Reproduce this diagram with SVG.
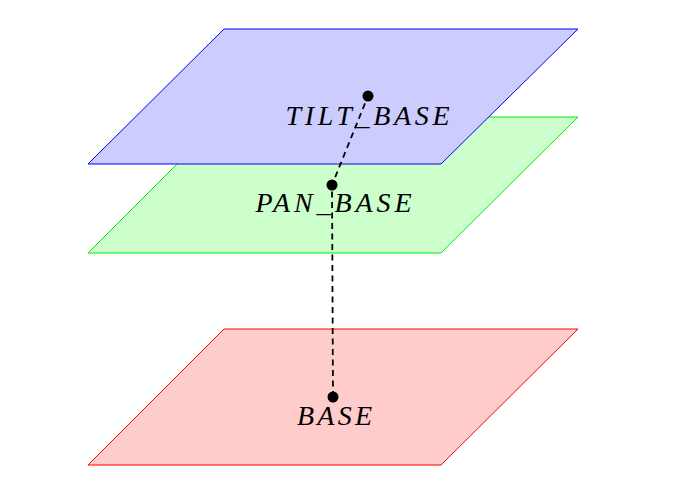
<svg xmlns="http://www.w3.org/2000/svg" width="689" height="478" viewBox="0 0 689 478">
<style>
.plane{stroke-width:1;stroke-linejoin:miter}
.lbl{font-family:"Liberation Serif","DejaVu Serif",serif;font-style:italic;font-size:28px;fill:#000;text-anchor:middle}
.dot{fill:#000}
.dash{stroke:#000;stroke-width:1.8;stroke-dasharray:6,4.5;fill:none}
</style>
<rect width="689" height="478" fill="#fff"/>
<g id="base">
<polygon class="plane" points="224,329 578,329 441,465 88,465" fill="#ffcccc" stroke="#ff0000"/>
</g>
<g id="pan_base">
<polygon class="plane" points="224,117 578,117 441,253 88,253" fill="#ccffcc" stroke="#00ee00"/>
</g>
<g id="tilt_base">
<polygon class="plane" points="224,29 578,29 441,164 88,164" fill="#ccccff" stroke="#0000ff"/>
</g>
<g id="labels">
<text class="lbl" x="367.5" y="125" textLength="164" lengthAdjust="spacing">TILT_BASE</text>
<text class="lbl" x="333.5" y="212" textLength="156" lengthAdjust="spacing">PAN_BASE</text>
<text class="lbl" x="334.5" y="425" textLength="75" lengthAdjust="spacing">BASE</text>
</g>
<g id="connectors">
<polyline class="dash" points="333,397 332,185 368,96"/>
<circle class="dot" cx="368" cy="96" r="5.5"/>
<circle class="dot" cx="332" cy="185" r="5.5"/>
<circle class="dot" cx="333" cy="397" r="5.5"/>
</g>
</svg>
